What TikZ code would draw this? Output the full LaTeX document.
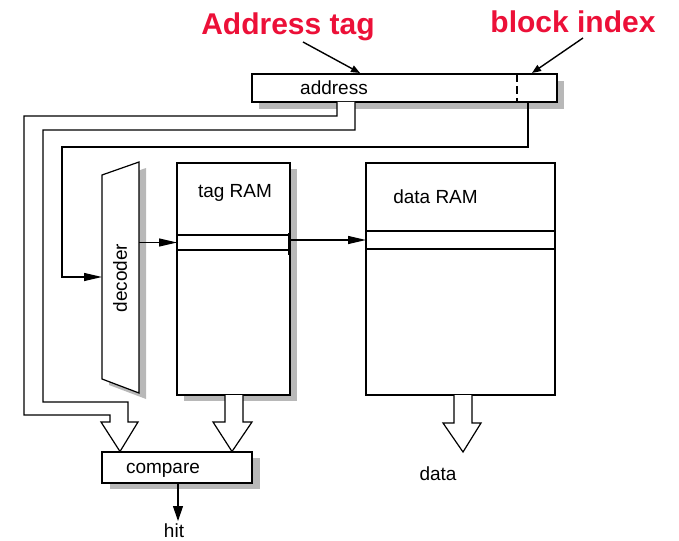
\documentclass[tikz,border=0pt]{standalone}
\usepackage{fontspec}
\setmainfont{Liberation Sans}
\usetikzlibrary{arrows.meta,shadows}
\definecolor{lblred}{RGB}{236,16,56}
\definecolor{shadowgray}{gray}{0.72}
\begin{document}
\begin{tikzpicture}[x=1pt,y=-1pt,line width=1.2pt,
  box/.style={draw,fill=white,inner sep=0pt,outer sep=0pt},
  shadowed/.style={drop shadow={shadow xshift=7pt,shadow yshift=-7pt,fill=shadowgray,opacity=1}},
  lbl/.style={font=\fontsize{19}{19}\selectfont,inner sep=0pt,anchor=base},
  big/.style={font=\fontsize{30}{30}\selectfont\bfseries,text=lblred,inner sep=0pt,anchor=base},
  arr/.style={-{Triangle[length=18pt,width=8pt]}},
  tagarr/.style={-{Triangle[length=9pt,width=7pt]},line width=1.4pt},
  bus/.style={draw,fill=white,line join=miter}
]
\useasboundingbox (0,0) rectangle (679,540);

% labels on top
\node[big] (atag) at (288,35) {Address tag};
\node[big] (bidx) at (573,33) {block index};

% address register
\node[box,shadowed,minimum width=305pt,minimum height=28pt] (addr) at (404.5,88) {};
\node[lbl] (addrlbl) at (334,95) {address};
\draw[dash pattern=on 8pt off 4pt] (517,74) -- (517,102);

\coordinate (atagS) at (303,42);
\coordinate (atagE) at (360,73);
\coordinate (bidxS) at (583,38);
\coordinate (bidxE) at (532,73);
\draw[tagarr] (atagS) -- (atagE);
\draw[tagarr] (bidxS) -- (bidxE);

% decoder (trapezoid)
\coordinate (d1) at (102,175);
\coordinate (d2) at (139,162);
\coordinate (d3) at (139,393);
\coordinate (d4) at (102,379);
\fill[shadowgray] ([shift={(7,6)}]d1) -- ([shift={(7,6)}]d2) -- ([shift={(7,6)}]d3) -- ([shift={(7,6)}]d4) -- cycle;
\draw[fill=white] (d1) -- (d2) -- (d3) -- (d4) -- cycle;
\node[lbl,anchor=center,rotate=90] (dec) at (120,278) {decoder};
\coordinate (decR) at (139,241);
\coordinate (decL) at (102,277);

% tag RAM
\node[box,drop shadow={shadow xshift=7pt,shadow yshift=-6pt,fill=shadowgray,opacity=1},minimum width=113pt,minimum height=232pt] (tagram) at (233.5,279) {};
\node[box,minimum width=113pt,minimum height=15pt] (tagrow) at (233.5,242.5) {};
\draw[line width=2.6pt] (177,233) -- (177,255);
\draw[line width=2.6pt] (289.5,233) -- (289.5,255);
\node[lbl] (taglbl) at (235,197) {tag RAM};

% data RAM
\node[box,minimum width=189pt,minimum height=232pt] (dataram) at (460.5,279) {};
\node[box,minimum width=189pt,minimum height=18pt] (datarow) at (460.5,240) {};
\node[lbl] (datalbl) at (435.5,203) {data RAM};

% compare
\node[box,drop shadow={shadow xshift=8pt,shadow yshift=-6pt,fill=shadowgray,opacity=1},minimum width=150pt,minimum height=31pt] (cmp) at (177,467.5) {};
\node[lbl] (cmplbl) at (163,473) {compare};

% address buses to compare (hollow bus arrow)
\path[bus] (337,102) -- (337,116) -- (24,116) -- (24,415) -- (110,415) -- (110,422)
  -- (101,422) -- (120,451.5) -- (138,422) -- (128,422) -- (128,402) -- (43,402)
  -- (43,130) -- (355,130) -- (355,102);

% index wire to decoder
\coordinate (idx) at (528,102);
\draw[arr] (idx) -- (528,147) -- (62,147) -- (62,277) -- (decL);

% decoder to tag row, tag row to data row
\draw[arr] (tagrow.west -| decR) -- (tagrow.west);
\draw[arr] (tagrow.east |- datarow.west) -- (datarow.west);

% tag RAM output to compare
\path[bus] (225,395) -- (225,422) -- (213,422) -- (232,451.5) -- (252,422) -- (243,422) -- (243,395);

% data RAM output
\path[bus] (454,395) -- (454,423) -- (443,423) -- (463,452) -- (481,423) -- (472,423) -- (472,395);
\node[lbl] (dataout) at (438,480) {data};

% hit
\node[lbl] (hit) at (174,537) {hit};
\coordinate (hitS) at (178,483);
\coordinate (hitE) at (178,521);
\draw[-{Triangle[length=15pt,width=10pt]}] (hitS) -- (hitE);
\end{tikzpicture}
\end{document}
